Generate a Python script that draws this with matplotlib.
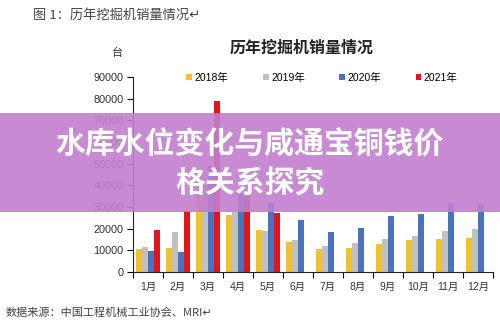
import numpy as np
import matplotlib.pyplot as plt
from matplotlib.patches import Rectangle

plt.rcParams['font.family'] = ['Liberation Sans', 'Noto Sans CJK SC', 'DejaVu Sans']

# 月度挖掘机销量（台）
months = ['1月', '2月', '3月', '4月', '5月', '6月', '7月', '8月', '9月', '10月', '11月', '12月']
years = ['2018年', '2019年', '2020年', '2021年']
s2018 = [10700, 11100, 40500, 26300, 19200, 13800, 10800, 11000, 13100, 14900, 15400, 15700]
s2019 = [11600, 18700, 40000, 27800, 18800, 14600, 11800, 13400, 15200, 16800, 18900, 19800]
s2020 = [9800, 9300, 49000, 36200, 31700, 24100, 18700, 20400, 25700, 26900, 31800, 31200]
s2021 = [19500, 28200, 79000, 35000, 27100]
colors = ['#f2c12e', '#c0c0c0', '#4a72bd', '#e3141c']

fig = plt.figure(figsize=(5, 3.27), dpi=100)
fig.patch.set_facecolor('white')
ax = fig.add_axes([0.266, 0.168, 0.72, 0.597])

w = 0.2
x = np.arange(len(months))
for k, (s, c, lab) in enumerate(zip([s2018, s2019, s2020, s2021], colors, years)):
    xs = x[:len(s)] + (k - 1.5) * w
    ax.bar(xs, s, width=w, color=c, label=lab, linewidth=0)

ax.set_xlim(-0.5, len(months) - 0.5)
ax.set_ylim(0, 90000)
ax.set_yticks(np.arange(0, 90001, 10000))
ax.set_xticks(x)
ax.set_xticklabels(months)
ax.set_xticks(np.arange(-0.5, len(months), 1), minor=True)
ax.tick_params(axis='x', which='major', length=0, pad=7, labelsize=7.5, labelcolor='#333333')
ax.tick_params(axis='x', which='minor', length=4, width=0.8, direction='out')
ax.tick_params(axis='y', length=4, width=0.8, direction='out', labelsize=7.8, labelcolor='#333333', pad=3)
for sp in ['top', 'right']:
    ax.spines[sp].set_visible(False)
for sp in ['left', 'bottom']:
    ax.spines[sp].set_linewidth(0.8)
    ax.spines[sp].set_color('#222222')

leg = ax.legend(loc='center', bbox_to_anchor=(0.644, 0.762), bbox_transform=fig.transFigure,
                ncol=4, frameon=False, fontsize=7.5, handlelength=0.55, handleheight=0.55,
                handletextpad=0.25, columnspacing=3.3)

# 标题与说明文字
fig.text(0.066, 0.953, '图 1：历年挖掘机销量情况↵', fontsize=9.5, color='#444444',
         family=['Noto Sans CJK SC', 'DejaVu Sans'], va='center')
fig.text(0.224, 0.838, '台', fontsize=8, color='#333333', family=['Noto Sans CJK SC'], va='center')
fig.text(0.603, 0.853, '历年挖掘机销量情况', fontsize=11.5, color='#222222', fontweight='bold',
         family=['Noto Sans CJK SC'], ha='center', va='center')
fig.text(0.012, 0.043, '数据来源：中国工程机械工业协会、MRI↵', fontsize=8, color='#444444',
         family=['Noto Sans CJK SC', 'DejaVu Sans'], va='center')

# 紫色横幅
band = Rectangle((0, 0.352), 1, 0.302, transform=fig.transFigure, facecolor='#c27fcf',
                 alpha=0.9, edgecolor='none', zorder=10)
fig.add_artist(band)
fig.text(0.5, 0.558, '水库水位变化与咸通宝铜钱价', fontsize=21.5, color='white', fontweight='bold',
         family=['Noto Sans CJK SC'], ha='center', va='center', zorder=11)
fig.text(0.5, 0.438, '格关系探究', fontsize=21.5, color='white', fontweight='bold',
         family=['Noto Sans CJK SC'], ha='center', va='center', zorder=11)

fig.savefig('out.png', dpi=100)
